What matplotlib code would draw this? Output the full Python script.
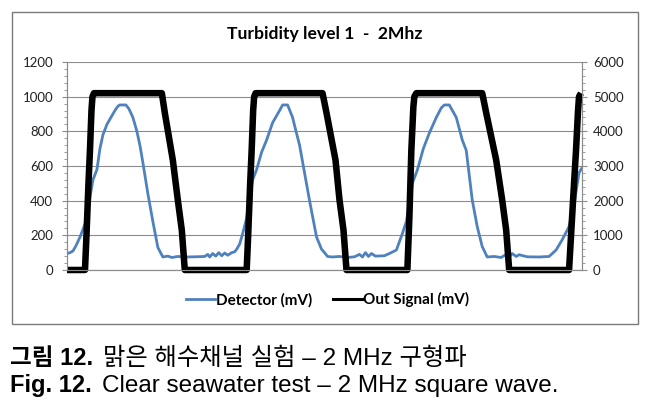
import matplotlib
matplotlib.use("Agg")
import matplotlib.pyplot as plt
from matplotlib.lines import Line2D
from matplotlib.patches import Rectangle

# sample index (arbitrary units) and values
det_t = [0, 3, 6, 9, 13, 17, 20, 23, 26, 30, 33, 36, 40, 44, 48, 51, 53, 59, 62, 66,
         70, 73, 76, 81, 86, 91, 96, 101, 105, 111, 118, 128, 138, 141, 143, 146, 149,
         152, 155, 158, 161, 165, 168, 170, 173, 176, 180, 183, 186, 190, 195, 200, 206,
         213, 216, 221, 226, 229, 233, 238, 243, 250, 255, 258, 261, 266, 273, 281, 288,
         293, 296, 299, 302, 305, 309, 318, 323, 330, 336, 340, 346, 351, 357, 363, 370,
         375, 378, 383, 390, 396, 400, 406, 411, 416, 421, 428, 435, 440, 443, 446, 450,
         453, 461, 473, 483, 490, 496, 503, 508, 513, 516]
det_mv = [95, 100, 110, 140, 190, 250, 300, 420, 520, 580, 700, 780, 840, 880, 920, 945,
          952, 952, 930, 880, 800, 720, 620, 440, 280, 130, 75, 80, 72, 78, 75, 76, 78, 90,
          75, 95, 80, 100, 82, 98, 85, 100, 105, 120, 150, 210, 300, 420, 520, 580, 680,
          750, 850, 920, 952, 952, 880, 810, 720, 560, 400, 190, 120, 100, 78, 75, 78, 72,
          76, 90, 75, 100, 78, 95, 80, 82, 95, 115, 210, 280, 500, 577, 700, 790, 880, 935,
          952, 952, 880, 750, 690, 404, 250, 135, 75, 78, 72, 90, 75, 95, 78, 88, 76, 75,
          78, 115, 173, 250, 380, 560, 590]

out_t = [0, 18, 19.5, 21.5, 23, 24.5, 25.5, 27, 95, 98, 106, 111, 115, 118,
         180, 181.5, 183.5, 185, 186.5, 187.5, 189, 256, 260, 269, 273, 277, 280,
         341, 343, 345, 347, 348, 350, 416, 420, 430, 436, 440, 443,
         503, 505, 508, 510, 512, 513, 515]
out_mv = [0, 0, 1000, 2500, 3460, 4600, 5000, 5100, 5100, 4530, 3170, 2020, 1150, 0,
          0, 1000, 2500, 3460, 4600, 5000, 5100, 5100, 4530, 3170, 2020, 1150, 0,
          0, 1500, 3460, 4700, 5000, 5100, 5100, 4530, 3170, 2020, 1150, 0,
          0, 1000, 2500, 3460, 4600, 5000, 5100]

left_ticks = [0, 200, 400, 600, 800, 1000, 1200]
right_ticks = [0, 1000, 2000, 3000, 4000, 5000, 6000]

BLUE = "#4f81bd"
GRID = "#8c8c8c"
CHART_FONT = "Lato"

fig = plt.figure(figsize=(6.59, 4.09), dpi=100)
fig.patches.append(Rectangle((0.0182, 0.2078), 0.9498, 0.7629, transform=fig.transFigure,
                             fill=False, edgecolor="#7a7a7a", lw=1.0))

ax = fig.add_axes([0.1017, 0.3399, 0.7815, 0.5086])
ax2 = ax.twinx()

ax.plot(det_t, det_mv, color=BLUE, lw=2.0, solid_joinstyle="round")
ax2.plot(out_t, out_mv, color="black", lw=4.7, solid_joinstyle="round",
         solid_capstyle="butt", clip_on=False)

ax.set_xlim(0, 516)
ax.set_ylim(0, 1200)
ax2.set_ylim(0, 6000)
ax.set_yticks(left_ticks)
ax2.set_yticks(right_ticks)
ax.set_yticks(range(0, 1201, 40), minor=True)
ax2.set_yticks(range(0, 6001, 200), minor=True)
ax.set_xticks([])

ax.grid(axis="y", color=GRID, lw=0.8)
ax.set_axisbelow(True)
for a in (ax, ax2):
    a.spines["top"].set_visible(False)
    for s in ("left", "right", "bottom"):
        a.spines[s].set_color(GRID)
        a.spines[s].set_linewidth(0.8)
    a.tick_params(axis="y", which="major", length=3.6, color=GRID, labelsize=9.5,
                  labelcolor="#222222")
    a.tick_params(axis="y", which="minor", length=2.2, color=GRID)
    for lb in a.get_yticklabels():
        lb.set_fontfamily(CHART_FONT)
ax.tick_params(axis="y", pad=6.5)
ax2.tick_params(axis="y", pad=4.3)

fig.text(0.492, 0.918, "Turbidity level 1  -  2Mhz", ha="center", va="center",
         fontsize=12.6, fontweight="bold", family=CHART_FONT)

handles = [Line2D([], [], color=BLUE, lw=2.0), Line2D([], [], color="black", lw=2.2)]
fig.legend(handles, ["Detector (mV)", "Out Signal (mV)"], loc="center",
           bbox_to_anchor=(0.497, 0.267), ncol=2, frameon=False, handlelength=1.9,
           handletextpad=0.05, columnspacing=1.35,
           prop={"family": CHART_FONT, "weight": "bold", "size": 11})

# caption below the chart: bold label then regular text
cap_font = ["Liberation Sans", "Noto Sans CJK KR"]
fig.canvas.draw()
r = fig.canvas.get_renderer()
for y, bold, rest in [(1 - 365 / 409, "그림 12.", "맑은 해수채널 실험 – 2 MHz 구형파"),
                      (1 - 392 / 409, "Fig. 12.", "Clear seawater test – 2 MHz square wave.")]:
    t1 = fig.text(10 / 659, y, bold, fontsize=17, fontweight="bold", family=cap_font,
                  va="baseline")
    bb = t1.get_window_extent(r)
    fig.text((bb.x1 + 10) / fig.bbox.width, y, rest, fontsize=17.5, family=cap_font,
             va="baseline")

fig.savefig("out.png", dpi=100)
